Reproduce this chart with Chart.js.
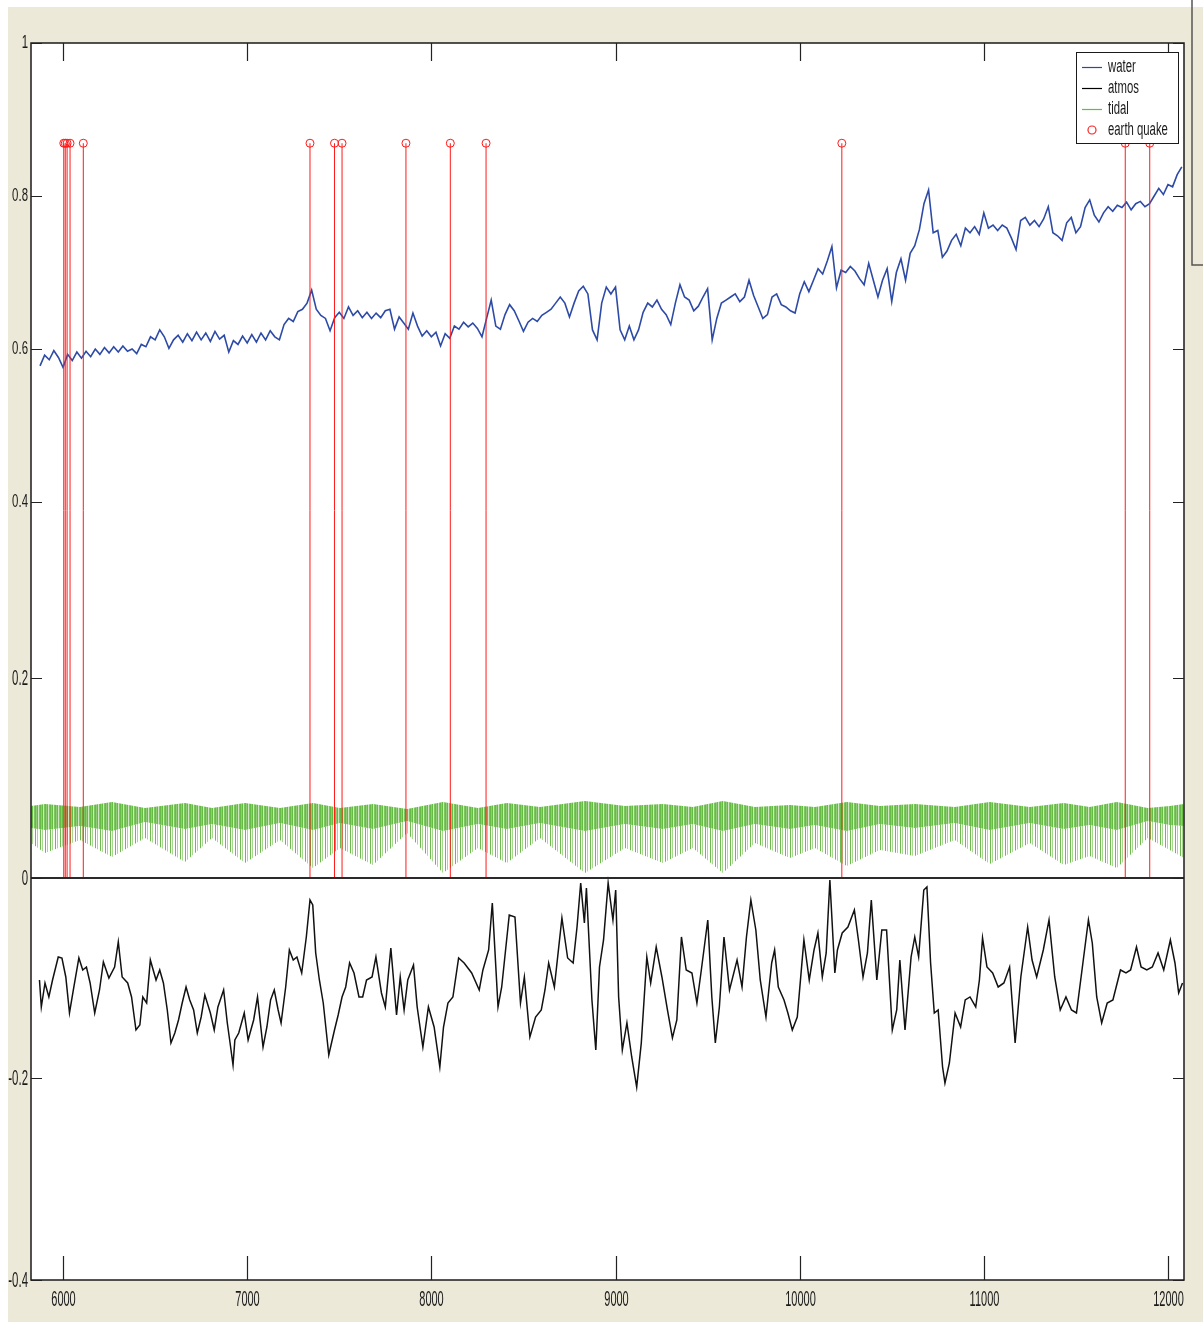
<!DOCTYPE html>
<html>
<head>
<meta charset="utf-8">
<script src="https://cdn.jsdelivr.net/npm/chart.js@4.4.1/dist/chart.umd.min.js"></script>
<style>
  body { margin: 0; background: #ffffff; }
  canvas { display: block; }
</style>
</head>
<body>
<canvas id="myChart" width="1203" height="1322"></canvas>
<script>
// ---- data ----
var xTicks = [6000, 7000, 8000, 9000, 10000, 11000, 12000];
var yTicks = [-0.4, -0.2, 0, 0.2, 0.4, 0.6, 0.8, 1];
var yTickLabels = ["-0.4", "-0.2", "0", "0.2", "0.4", "0.6", "0.8", "1"];

// water level, one value every 25 samples starting at 5875
var waterStart = 5875;
var waterStep = 25;
var water = [
    0.578, 0.592, 0.586, 0.598, 0.589, 0.576, 0.593, 0.585, 0.596, 0.588,
    0.597, 0.590, 0.600, 0.593, 0.602, 0.595, 0.603, 0.596, 0.604, 0.597,
    0.600, 0.594, 0.606, 0.603, 0.616, 0.612, 0.625, 0.616, 0.601, 0.612,
    0.618, 0.609, 0.620, 0.611, 0.622, 0.612, 0.621, 0.610, 0.623, 0.613,
    0.618, 0.596, 0.611, 0.606, 0.617, 0.608, 0.619, 0.609, 0.621, 0.612,
    0.624, 0.616, 0.612, 0.632, 0.640, 0.636, 0.649, 0.652, 0.660, 0.677,
    0.652, 0.644, 0.640, 0.624, 0.641, 0.648, 0.640, 0.655, 0.644, 0.650,
    0.641, 0.648, 0.640, 0.647, 0.641, 0.650, 0.652, 0.626, 0.642, 0.634,
    0.626, 0.647, 0.630, 0.617, 0.624, 0.616, 0.622, 0.604, 0.620, 0.614,
    0.630, 0.626, 0.635, 0.629, 0.634, 0.627, 0.616, 0.640, 0.664, 0.630,
    0.626, 0.645, 0.658, 0.650, 0.637, 0.623, 0.635, 0.640, 0.636, 0.644,
    0.648, 0.652, 0.660, 0.668, 0.660, 0.642, 0.660, 0.676, 0.682, 0.672,
    0.625, 0.612, 0.660, 0.681, 0.672, 0.681, 0.625, 0.612, 0.630, 0.612,
    0.625, 0.648, 0.660, 0.655, 0.664, 0.652, 0.645, 0.632, 0.660, 0.684,
    0.668, 0.664, 0.650, 0.656, 0.668, 0.679, 0.612, 0.640, 0.660, 0.664,
    0.668, 0.672, 0.662, 0.668, 0.690, 0.670, 0.655, 0.640, 0.645, 0.668,
    0.672, 0.658, 0.655, 0.650, 0.647, 0.672, 0.688, 0.675, 0.690, 0.705,
    0.698, 0.715, 0.734, 0.680, 0.703, 0.700, 0.708, 0.702, 0.692, 0.684,
    0.712, 0.690, 0.668, 0.690, 0.705, 0.662, 0.700, 0.718, 0.690, 0.725,
    0.735, 0.756, 0.790, 0.808, 0.752, 0.755, 0.720, 0.728, 0.742, 0.750,
    0.735, 0.758, 0.752, 0.760, 0.750, 0.778, 0.758, 0.762, 0.755, 0.762,
    0.758, 0.745, 0.730, 0.768, 0.772, 0.762, 0.768, 0.760, 0.770, 0.786,
    0.752, 0.748, 0.742, 0.765, 0.772, 0.752, 0.760, 0.785, 0.795, 0.775,
    0.766, 0.778, 0.786, 0.780, 0.788, 0.785, 0.792, 0.782, 0.790, 0.793,
    0.786, 0.790, 0.800, 0.810, 0.802, 0.815, 0.812, 0.828, 0.838
];

// atmospheric pressure (turning points)
var atmosX = [
    5872, 5882, 5902, 5923, 5943, 5974, 5994, 6015, 6035, 6056,
    6086, 6107, 6127, 6147, 6172, 6198, 6219, 6249, 6280, 6300,
    6321, 6351, 6372, 6396, 6417, 6433, 6454, 6474, 6505, 6525,
    6545, 6566, 6586, 6607, 6627, 6647, 6668, 6688, 6709, 6729,
    6750, 6770, 6800, 6821, 6841, 6872, 6892, 6907, 6923, 6933,
    6954, 6984, 7005, 7035, 7056, 7086, 7107, 7127, 7147, 7168,
    7184, 7209, 7229, 7250, 7270, 7296, 7321, 7341, 7356, 7372,
    7392, 7413, 7443, 7474, 7494, 7515, 7535, 7556, 7580, 7607,
    7627, 7648, 7678, 7699, 7729, 7750, 7780, 7811, 7831, 7852,
    7872, 7903, 7923, 7954, 7984, 8015, 8046, 8066, 8090, 8117,
    8148, 8178, 8219, 8260, 8280, 8311, 8331, 8362, 8382, 8423,
    8454, 8484, 8505, 8535, 8566, 8597, 8617, 8637, 8668, 8709,
    8740, 8770, 8791, 8811, 8831, 8842, 8872, 8893, 8913, 8935,
    8960, 8986, 9001, 9017, 9037, 9062, 9088, 9115, 9140, 9170,
    9191, 9221, 9252, 9282, 9309, 9333, 9358, 9384, 9415, 9442,
    9466, 9501, 9523, 9542, 9564, 9589, 9619, 9660, 9687, 9711,
    9735, 9762, 9786, 9817, 9848, 9864, 9884, 9915, 9936, 9960,
    9987, 10023, 10052, 10078, 10099, 10123, 10144, 10164, 10191, 10205,
    10231, 10262, 10297, 10319, 10344, 10368, 10389, 10419, 10446, 10472,
    10503, 10527, 10544, 10572, 10605, 10625, 10646, 10674, 10691, 10711,
    10731, 10752, 10776, 10789, 10813, 10844, 10874, 10899, 10925, 10956,
    10976, 10993, 11017, 11048, 11078, 11109, 11140, 11170, 11201, 11238,
    11262, 11287, 11323, 11354, 11385, 11415, 11446, 11476, 11503, 11538,
    11568, 11589, 11613, 11640, 11670, 11701, 11742, 11772, 11797, 11829,
    11854, 11885, 11915, 11946, 11977, 12013, 12038, 12058, 12079
];
var atmosY = [
    -0.102, -0.129, -0.105, -0.119, -0.102, -0.079, -0.080, -0.099, -0.135, -0.112,
    -0.080, -0.092, -0.089, -0.105, -0.135, -0.112, -0.084, -0.100, -0.089, -0.064,
    -0.099, -0.105, -0.119, -0.152, -0.147, -0.119, -0.125, -0.082, -0.102, -0.092,
    -0.105, -0.132, -0.165, -0.155, -0.142, -0.125, -0.109, -0.122, -0.132, -0.155,
    -0.139, -0.117, -0.135, -0.152, -0.129, -0.112, -0.145, -0.165, -0.187, -0.162,
    -0.155, -0.135, -0.162, -0.142, -0.119, -0.169, -0.149, -0.122, -0.112, -0.132,
    -0.145, -0.109, -0.072, -0.082, -0.079, -0.095, -0.059, -0.022, -0.027, -0.075,
    -0.102, -0.125, -0.177, -0.152, -0.137, -0.119, -0.109, -0.085, -0.095, -0.119,
    -0.119, -0.102, -0.099, -0.079, -0.115, -0.129, -0.070, -0.137, -0.099, -0.132,
    -0.102, -0.087, -0.129, -0.169, -0.129, -0.149, -0.189, -0.149, -0.125, -0.119,
    -0.080, -0.085, -0.095, -0.112, -0.092, -0.072, -0.025, -0.129, -0.109, -0.037,
    -0.039, -0.125, -0.099, -0.159, -0.139, -0.132, -0.112, -0.085, -0.109, -0.040,
    -0.080, -0.085, -0.049, -0.005, -0.045, -0.010, -0.122, -0.172, -0.089, -0.062,
    -0.005, -0.042, -0.012, -0.119, -0.172, -0.145, -0.179, -0.209, -0.165, -0.079,
    -0.105, -0.069, -0.099, -0.132, -0.160, -0.142, -0.059, -0.092, -0.095, -0.125,
    -0.092, -0.042, -0.119, -0.165, -0.129, -0.059, -0.112, -0.082, -0.109, -0.059,
    -0.022, -0.052, -0.102, -0.139, -0.085, -0.072, -0.109, -0.122, -0.135, -0.152,
    -0.139, -0.062, -0.102, -0.072, -0.055, -0.099, -0.075, -0.002, -0.095, -0.072,
    -0.055, -0.049, -0.032, -0.062, -0.099, -0.075, -0.022, -0.102, -0.052, -0.052,
    -0.152, -0.132, -0.082, -0.152, -0.079, -0.059, -0.079, -0.012, -0.009, -0.085,
    -0.135, -0.132, -0.189, -0.205, -0.185, -0.135, -0.149, -0.122, -0.119, -0.129,
    -0.102, -0.060, -0.089, -0.095, -0.109, -0.105, -0.089, -0.165, -0.099, -0.049,
    -0.082, -0.099, -0.072, -0.042, -0.099, -0.132, -0.119, -0.132, -0.135, -0.085,
    -0.042, -0.065, -0.119, -0.145, -0.125, -0.122, -0.092, -0.095, -0.092, -0.069,
    -0.089, -0.092, -0.089, -0.075, -0.092, -0.062, -0.085, -0.115, -0.105
];

// tidal band: upper edge, lower edge of the dense part, tips of the troughs
var tidalX = [
    5826, 5902, 6092, 6266, 6445, 6662, 6809, 6988, 7178, 7357,
    7504, 7683, 7868, 8063, 8253, 8410, 8590, 8834, 9051, 9257,
    9420, 9583, 9757, 9947, 10083, 10256, 10435, 10625, 10842, 11032,
    11250, 11434, 11575, 11722, 11890, 12010, 12087
];
var tidalTop = [
    0.072, 0.074, 0.071, 0.076, 0.070, 0.075, 0.070, 0.075, 0.070, 0.075,
    0.070, 0.074, 0.069, 0.076, 0.070, 0.075, 0.071, 0.077, 0.072, 0.074,
    0.071, 0.077, 0.071, 0.073, 0.071, 0.076, 0.072, 0.074, 0.071, 0.076,
    0.071, 0.075, 0.071, 0.076, 0.070, 0.072, 0.074
];
var tidalMid = [
    0.050, 0.048, 0.052, 0.047, 0.056, 0.049, 0.054, 0.048, 0.055, 0.048,
    0.055, 0.049, 0.057, 0.047, 0.054, 0.049, 0.055, 0.047, 0.054, 0.049,
    0.054, 0.047, 0.054, 0.049, 0.053, 0.047, 0.054, 0.050, 0.055, 0.048,
    0.055, 0.049, 0.053, 0.048, 0.057, 0.053, 0.052
];
var tidalLow = [
    0.035, 0.025, 0.038, 0.021, 0.040, 0.016, 0.040, 0.015, 0.038, 0.010,
    0.030, 0.013, 0.045, 0.005, 0.030, 0.015, 0.040, 0.005, 0.030, 0.015,
    0.030, 0.005, 0.035, 0.020, 0.030, 0.012, 0.028, 0.022, 0.038, 0.014,
    0.035, 0.013, 0.022, 0.010, 0.040, 0.028, 0.020
];

// earthquakes
var quakeX = [6004, 6012, 6022, 6038, 6110, 7341, 7474, 7515, 7862, 8103, 8297, 10229, 11768, 11901];
var quakeLevel = 0.869;

// ---- piecewise y axis (the picture's axis is not evenly spaced) ----
class PiecewiseScale extends Chart.LinearScale {
    valueToDecimal(v) {
        var kv = this.options.knotValues, kf = this.options.knotFracs;
        if (v == null || isNaN(v)) return NaN;
        if (v <= kv[0]) return kf[0] + (v - kv[0]) * (kf[1] - kf[0]) / (kv[1] - kv[0]);
        for (var i = 1; i < kv.length; i++) {
            if (v <= kv[i]) {
                return kf[i - 1] + (v - kv[i - 1]) * (kf[i] - kf[i - 1]) / (kv[i] - kv[i - 1]);
            }
        }
        var n = kv.length - 1;
        return kf[n] + (v - kv[n]) * (kf[n] - kf[n - 1]) / (kv[n] - kv[n - 1]);
    }
    getPixelForValue(value) {
        return this.getPixelForDecimal(this.valueToDecimal(value));
    }
    getValueForPixel(pixel) {
        var d = this.getDecimalForPixel(pixel);
        var kv = this.options.knotValues, kf = this.options.knotFracs;
        for (var i = 1; i < kf.length; i++) {
            if (d <= kf[i]) {
                return kv[i - 1] + (d - kf[i - 1]) * (kv[i] - kv[i - 1]) / (kf[i] - kf[i - 1]);
            }
        }
        return kv[kv.length - 1];
    }
}
PiecewiseScale.id = 'piecewise';
PiecewiseScale.defaults = Chart.LinearScale.defaults;
Chart.register(PiecewiseScale);

// ---- stripe patterns for the dense tidal oscillation ----
function makePattern(cols){
    var c = document.createElement('canvas');
    c.width = cols.length;
    c.height = 4;
    var g = c.getContext('2d');
    for (var i = 0; i < cols.length; i++) {
        g.fillStyle = cols[i];
        g.fillRect(i, 0, 1, 4);
    }
    return g.createPattern(c, 'repeat');
}
var tidalDense = makePattern(['#66bb45', '#8fcd73', '#66bb45', '#cfe9c2', '#7cc560']);
var tidalSpikes = makePattern(['#6cbe4c', '#ffffff', '#a9d792', '#ffffff', '#ffffff']);

function pts(xs, ys){
    var out = [];
    for (var i = 0; i < xs.length; i++) out.push({x: xs[i], y: ys[i]});
    return out;
}

var waterData = [];
for (var i = 0; i < water.length; i++) {
    waterData.push({x: waterStart + i * waterStep, y: water[i]});
}

var stemData = [];
var circleData = [];
for (var i = 0; i < quakeX.length; i++) {
    stemData.push({x: quakeX[i], y: 0}, {x: quakeX[i], y: quakeLevel}, {x: quakeX[i], y: null});
    circleData.push({x: quakeX[i], y: quakeLevel});
}

// ---- axes frame, ticks, labels and legend in matlab style ----
function squeezedText(ctx, text, x, y, align, sx, sy){
    ctx.save();
    ctx.translate(x, y);
    ctx.scale(sx, sy);
    ctx.textAlign = align;
    ctx.textBaseline = 'middle';
    ctx.fillText(text, 0, 0);
    ctx.restore();
}

var matlabFrame = {
    id: 'matlabFrame',
    beforeDraw: function(chart){
        var ctx = chart.ctx, a = chart.chartArea;
        ctx.save();
        ctx.fillStyle = '#ffffff';
        ctx.fillRect(0, 0, chart.width, chart.height);
        ctx.fillStyle = '#ece9d8';
        ctx.fillRect(8, 7, chart.width - 8, chart.height - 7);
        ctx.fillStyle = '#ffffff';
        ctx.fillRect(a.left, a.top, a.right - a.left, a.bottom - a.top);
        ctx.restore();
    },
    afterDatasetsDraw: function(chart){
        var ctx = chart.ctx, a = chart.chartArea;
        var xs = chart.scales.x, ys = chart.scales.y;
        ctx.save();

        // zero line
        var y0 = ys.getPixelForValue(0);
        ctx.strokeStyle = '#2a2a2a';
        ctx.lineWidth = 2;
        ctx.beginPath();
        ctx.moveTo(a.left, y0);
        ctx.lineTo(a.right, y0);
        ctx.stroke();

        // box
        ctx.strokeStyle = '#1a1a1a';
        ctx.lineWidth = 1.5;
        ctx.strokeRect(a.left, a.top, a.right - a.left, a.bottom - a.top);

        // ticks
        ctx.lineWidth = 1.2;
        ctx.strokeStyle = '#222222';
        ctx.fillStyle = '#1a1a1a';
        ctx.font = '22px "Liberation Sans", Arial, sans-serif';
        for (var i = 0; i < xTicks.length; i++) {
            var px = Math.round(xs.getPixelForValue(xTicks[i])) + 0.5;
            ctx.beginPath();
            ctx.moveTo(px, a.top);
            ctx.lineTo(px, a.top + 18);
            ctx.moveTo(px, a.bottom);
            ctx.lineTo(px, a.bottom - 24);
            ctx.stroke();
            squeezedText(ctx, String(xTicks[i]), px, a.bottom + 20, 'center', 0.5, 1);
        }
        for (var j = 0; j < yTicks.length; j++) {
            var py = Math.round(ys.getPixelForValue(yTicks[j])) + 0.5;
            ctx.beginPath();
            ctx.moveTo(a.left, py);
            ctx.lineTo(a.left + 11, py);
            ctx.moveTo(a.right, py);
            ctx.lineTo(a.right - 11, py);
            ctx.stroke();
            var sy = yTicks[j] >= 0.4 ? 0.82 : 1;
            squeezedText(ctx, yTickLabels[j], a.left - 3, py, 'right', 0.52, sy);
        }

        // side panel edge on the right
        ctx.strokeStyle = '#555555';
        ctx.lineWidth = 1.5;
        ctx.beginPath();
        ctx.moveTo(1192, 0);
        ctx.lineTo(1192, 265);
        ctx.lineTo(1203, 265);
        ctx.stroke();

        // legend
        var lx = 1076, ly = 52, lw = 102, lh = 91;
        ctx.fillStyle = '#ffffff';
        ctx.fillRect(lx, ly, lw, lh);
        ctx.strokeStyle = '#1a1a1a';
        ctx.lineWidth = 1;
        ctx.strokeRect(lx + 0.5, ly + 0.5, lw, lh);
        var entries = [
            {label: 'water', color: '#2b48a6', y: 67},
            {label: 'atmos', color: '#000000', y: 88},
            {label: 'tidal', color: '#5fc03a', y: 109},
            {label: 'earth quake', color: '#ff2020', y: 130, marker: true}
        ];
        ctx.font = '18px "Liberation Sans", Arial, sans-serif';
        for (var k = 0; k < entries.length; k++) {
            var e = entries[k];
            ctx.strokeStyle = e.color;
            ctx.lineWidth = 1.2;
            ctx.beginPath();
            if (e.marker) {
                ctx.arc(1092, e.y, 4, 0, Math.PI * 2);
            } else {
                ctx.moveTo(1082, e.y + 0.5);
                ctx.lineTo(1102, e.y + 0.5);
            }
            ctx.stroke();
            ctx.fillStyle = '#1a1a1a';
            squeezedText(ctx, e.label, 1108, e.y, 'left', 0.63, 1);
        }
        ctx.restore();
    }
};

var ctx = document.getElementById('myChart').getContext('2d');
var chart = new Chart(ctx, {
    type: 'line',
    data: {
        datasets: [
            {
                label: 'earth quake stems',
                data: stemData,
                borderColor: '#ff1a1a',
                borderWidth: 1,
                pointRadius: 0,
                spanGaps: false,
                fill: false,
                order: 0
            },
            {
                label: 'earth quake',
                data: circleData,
                showLine: false,
                pointRadius: 4,
                pointBorderWidth: 1,
                pointBorderColor: '#ff1a1a',
                pointBackgroundColor: 'rgba(0,0,0,0)',
                order: 0
            },
            {
                label: 'tidal',
                data: pts(tidalX, tidalTop),
                borderColor: 'rgba(0,0,0,0)',
                borderWidth: 0,
                pointRadius: 0,
                backgroundColor: tidalDense,
                fill: '+1',
                order: 1
            },
            {
                label: 'tidal mid',
                data: pts(tidalX, tidalMid),
                borderColor: 'rgba(0,0,0,0)',
                borderWidth: 0,
                pointRadius: 0,
                backgroundColor: tidalSpikes,
                fill: '+1',
                order: 1
            },
            {
                label: 'tidal low',
                data: pts(tidalX, tidalLow),
                borderColor: 'rgba(0,0,0,0)',
                borderWidth: 0,
                pointRadius: 0,
                fill: false,
                order: 1
            },
            {
                label: 'atmos',
                data: pts(atmosX, atmosY),
                borderColor: '#111111',
                borderWidth: 1.5,
                pointRadius: 0,
                fill: false,
                order: 2
            },
            {
                label: 'water',
                data: waterData,
                borderColor: '#2d4aa6',
                borderWidth: 1.6,
                pointRadius: 0,
                fill: false,
                order: 3
            }
        ]
    },
    options: {
        responsive: false,
        animation: false,
        devicePixelRatio: 1,
        layout: { padding: { left: 31, top: 43, right: 19, bottom: 42 } },
        plugins: {
            legend: { display: false },
            tooltip: { enabled: false }
        },
        elements: { line: { tension: 0 } },
        scales: {
            x: { type: 'linear', min: 5826, max: 12087, display: false },
            y: {
                type: 'piecewise',
                min: -0.4,
                max: 1,
                display: false,
                knotValues: [-0.4, -0.2, 0, 0.2, 0.4, 0.6, 0.8, 1],
                knotFracs: [0, 0.1633, 0.3250, 0.4867, 0.6289, 0.7526, 0.8763, 1]
            }
        }
    },
    plugins: [matlabFrame]
});
</script>
</body>
</html>
